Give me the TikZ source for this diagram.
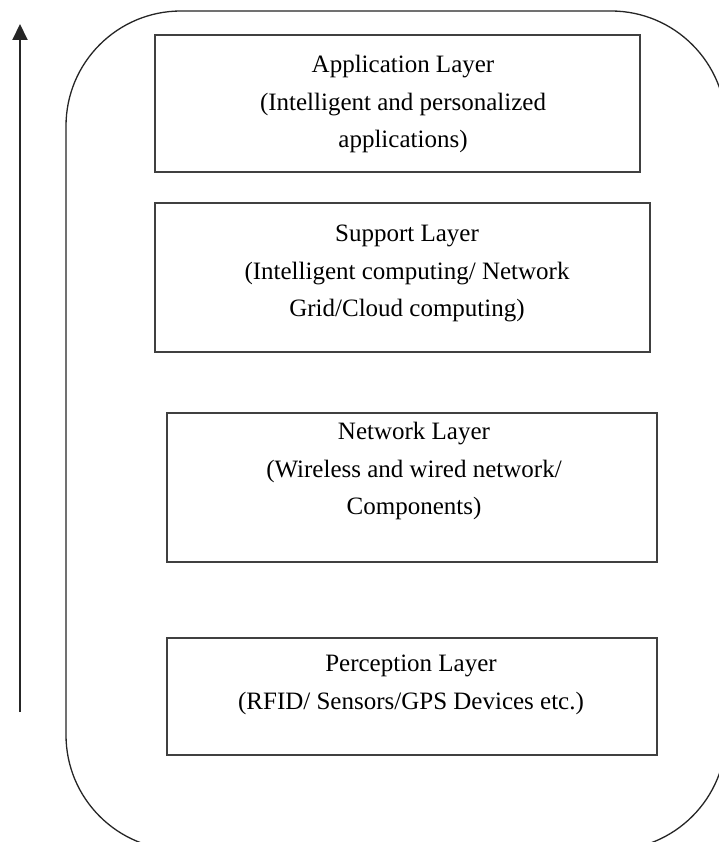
\documentclass[tikz,border=0pt]{standalone}
\usepackage{fontspec}
\setmainfont{Liberation Serif}
\usetikzlibrary{arrows.meta}
\begin{document}
\begin{tikzpicture}[x=1pt,y=-1pt,
  layerbox/.style={draw=black!75,line width=1.6pt,rectangle,inner sep=0pt},
  layertext/.style={align=center,font=\fontsize{25}{37.5}\selectfont,inner sep=0pt,anchor=north},
  frame/.style={draw=black!85,line width=1.3pt,rounded corners=115pt},
  uparrow/.style={draw=black!85,line width=2pt,-{Triangle[width=15pt,length=16pt]}}]
\useasboundingbox[clip] (0,0) rectangle (719,842);
\fill[white] (0,0) rectangle (719,842);
% outer frame
\draw[frame] (66,11) rectangle (726,850);
% arrow
\coordinate (abot) at (20,712);
\coordinate (atop) at (20,24);
\draw[uparrow] (abot) -- (atop);
% boxes
\node[layerbox,minimum width=485pt,minimum height=137pt] (app) at (397.5,103.5) {};
\node[layerbox,minimum width=495pt,minimum height=149pt] (sup) at (402.5,277.5) {};
\node[layerbox,minimum width=490pt,minimum height=149pt] (net) at (412,487.5) {};
\node[layerbox,minimum width=490pt,minimum height=117pt] (per) at (412,696.5) {};
% texts
\node[layertext] (appt) at (403,55) {Application Layer\\(Intelligent and personalized\\applications)};
\node[layertext] (supt) at (407,225) {Support Layer\\(Intelligent computing/ Network\\Grid/Cloud computing)};
\node[layertext] (nett) at (414,422) {Network Layer\\(Wireless and wired network/\\Components)};
\node[layertext] (pert) at (411,655) {\fontsize{25}{34}\selectfont Perception Layer\\(RFID/ Sensors/GPS Devices etc.)};
\end{tikzpicture}
\end{document}
